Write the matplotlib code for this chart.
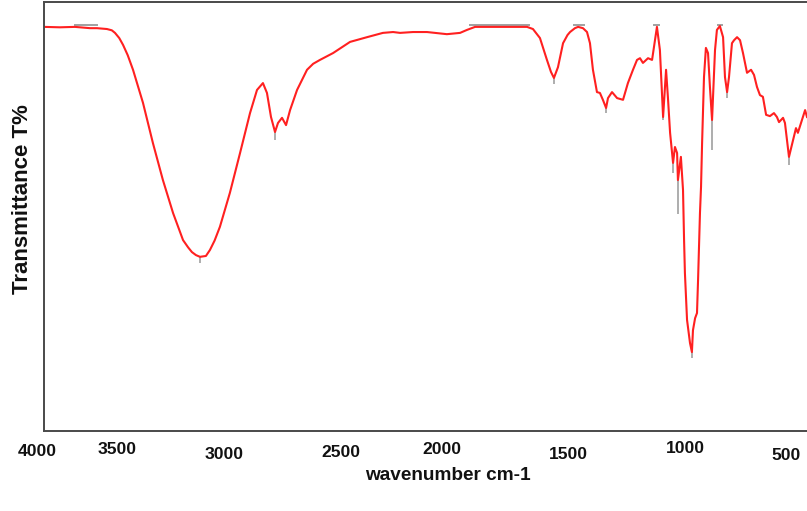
"""FTIR spectrum: transmittance vs wavenumber, red trace on a plain frame."""

import matplotlib
matplotlib.use("Agg")
import matplotlib.pyplot as plt
import numpy as np

# spectrum (cm-1, T%)
wavenumber = [
    4000, 3925, 3854, 3783, 3750, 3703, 3680, 3665, 3645, 3627, 3605, 3580,
    3533, 3486, 3439, 3391, 3344, 3320, 3302, 3283, 3264, 3236, 3217, 3195,
    3170, 3123, 3075, 3028, 2995, 2967, 2948, 2929, 2910, 2896, 2877, 2858,
    2839, 2806, 2759, 2730, 2698, 2636, 2556, 2476, 2401, 2353, 2320, 2259,
    2193, 2099, 2037, 2004, 1966, 1882, 1801, 1721, 1693, 1660, 1627, 1608,
    1594, 1575, 1551, 1530, 1518, 1495, 1480, 1457, 1438, 1424, 1410, 1391,
    1377, 1363, 1348, 1339, 1320, 1296, 1268, 1245, 1221, 1202, 1188, 1174,
    1150, 1131, 1117, 1108, 1094, 1079, 1065, 1056, 1046, 1032, 1023, 1013,
    1009, 995, 985, 980, 976, 966, 952, 943, 938, 928, 919, 914, 905, 900,
    895, 886, 877, 867, 858, 848, 834, 825, 811, 796, 787, 777, 768, 754,
    744, 730, 716, 702, 683, 664, 650, 636, 622, 608, 593, 575, 556, 542,
    532, 513, 504, 485, 466, 452, 443, 424, 409, 400,
]
transmittance = [
    94.2, 94.1, 94.2, 93.9, 93.9, 93.7, 93.4, 92.8, 91.6, 90.0, 87.6, 84.2,
    76.5, 67.1, 58.5, 50.8, 44.5, 42.8, 41.7, 41.0, 40.6, 40.8, 42.2, 44.4,
    47.6, 55.5, 64.8, 74.1, 79.5, 81.1, 78.8, 73.2, 69.7, 71.8, 73.0, 71.3,
    74.8, 79.5, 84.2, 85.6, 86.5, 88.1, 90.7, 91.8, 92.8, 93.0, 92.8, 93.0,
    93.0, 92.5, 92.8, 93.5, 94.2, 94.2, 94.2, 94.2, 93.7, 91.6, 86.5, 83.7,
    82.3, 84.8, 90.4, 92.3, 93.0, 93.9, 94.2, 93.9, 93.0, 90.4, 84.2, 79.0,
    78.8, 77.2, 75.3, 77.6, 79.0, 77.6, 77.2, 81.1, 84.2, 86.5, 86.9, 85.8,
    86.9, 86.5, 91.1, 94.2, 88.8, 73.2, 84.2, 77.6, 69.5, 62.5, 66.2, 64.8,
    58.5, 63.9, 56.2, 44.5, 36.8, 25.9, 20.5, 18.4, 23.5, 26.3, 27.5, 35.2,
    50.8, 56.9, 67.1, 82.5, 89.3, 88.1, 80.2, 72.5, 88.8, 93.5, 94.4, 91.8,
    82.5, 79.0, 82.5, 90.4, 91.1, 91.8, 91.1, 88.1, 83.5, 84.2, 83.0, 80.2,
    78.3, 77.9, 73.7, 73.4, 74.1, 73.2, 72.0, 73.0, 71.8, 63.9, 67.8, 70.6,
    69.5, 72.5, 74.8, 73.2,
]

# peak picks drawn by the instrument software
min_marks = [3264, 2910, 1594, 1348, 1079, 1032, 1009, 943, 848, 777, 485]
min_mark_len = [6, 8, 6, 5, 3, 10, 34, 6, 30, 6, 8]  # pixels
max_marks = [(3854, 3750), (1990, 1710), (1500, 1450), (1120, 1100), (820, 800)]

tick_values = [4000, 3500, 3000, 2500, 2000, 1500, 1000, 500]
# the tick labels in the reference are hand placed: nudges in pixels
tick_dx = [-7, -33, -32, -21, -26, -5, 6, 0]
tick_dy = [-25, -23, -28, -26, -23, -28, -22, -29]

FONT = ["Liberation Sans", "DejaVu Sans"]
W, H = 807, 511

fig = plt.figure(figsize=(W / 100, H / 100), dpi=100)
ax = fig.add_axes([44 / W, (H - 431) / H, (W - 44) / W, 429 / H])
ax.set_xlim(4000, 400)
ax.set_ylim(0, 100)

wn = np.array(wavenumber)
tr = np.array(transmittance)

# gray peak markers under the trace
for w, ln in zip(min_marks, min_mark_len):
    t = np.interp(w, wn[::-1], tr[::-1])
    ax.plot([w, w], [t, t - ln * 100 / 429], color="#a0a0a0", lw=1.2,
            solid_capstyle="butt", zorder=1)
for a, b in max_marks:
    ax.plot([a, b], [94.6, 94.6], color="#a0a0a0", lw=1.4, zorder=1)

ax.plot(wn, tr, color="#ff2020", lw=1.5, zorder=2,
        solid_joinstyle="round")

ax.set_xticks([])
ax.set_yticks([])
for side in ("left", "top", "bottom"):
    ax.spines[side].set_color("#4a4a4a")
    ax.spines[side].set_linewidth(1.4)
ax.spines["right"].set_visible(False)

trans = ax.get_xaxis_transform()
for v, dx, dy in zip(tick_values, tick_dx, tick_dy):
    ax.annotate(str(v), xy=(v, 0), xycoords=trans, xytext=(dx, dy),
                textcoords="offset pixels", ha="center", va="baseline",
                fontsize=12.6, fontweight="bold", family=FONT,
                color="#111111", annotation_clip=False)

fig.text(448 / W, (H - 480) / H, "wavenumber cm-1", ha="center",
         va="baseline", fontsize=13.7, fontweight="bold", family=FONT,
         color="#111111")
fig.text(23 / W, 1 - 199 / H, "Transmittance T%", rotation=90,
         ha="center", va="center", fontsize=16, fontweight="bold",
         family=FONT, color="#111111")

fig.savefig("out.png", dpi=100)
